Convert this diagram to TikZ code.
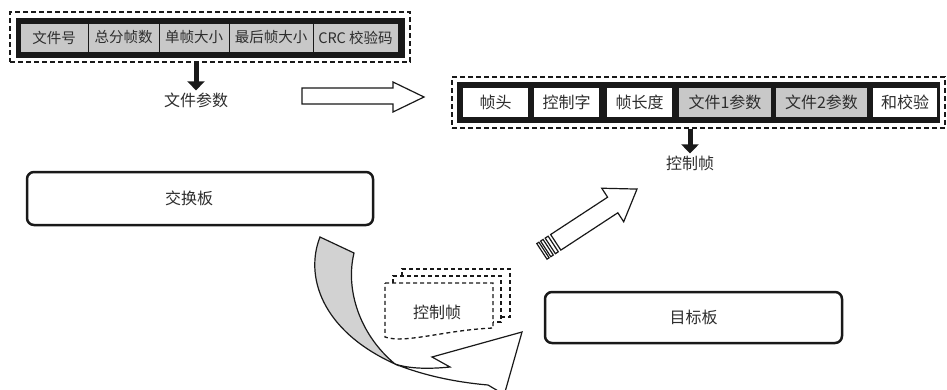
\documentclass[tikz,border=0pt]{standalone}
\usepackage{fontspec}
\setmainfont{Noto Sans CJK SC}
\usetikzlibrary{arrows.meta,calc}
\definecolor{cellgray}{RGB}{200,200,200}
\definecolor{ribbongray}{RGB}{210,210,210}
\definecolor{ink}{RGB}{25,25,25}
\definecolor{txt}{RGB}{45,45,45}
\tikzset{
  frame/.style={draw=ink, dash pattern=on 5pt off 3pt, line width=1.4pt, inner sep=0pt},
  bar/.style={fill=ink, draw=none, inner sep=0pt},
  cellL/.style={fill=cellgray, draw=ink, line width=0.8pt, inner sep=0pt, minimum height=29pt, font=\fontsize{14.5}{16}\selectfont, text=txt},
  cellW/.style={fill=white, draw=none, inner sep=0pt, minimum height=29pt, font=\fontsize{16}{18}\selectfont, text=txt},
  cellG/.style={cellW, fill=cellgray},
  lbl/.style={font=\fontsize{16}{18}\selectfont, text=txt, inner sep=2pt},
  board/.style={draw=ink, line width=2.5pt, rounded corners=7pt, fill=white, inner sep=0pt, font=\fontsize{16}{18}\selectfont, text=txt},
  bigdown/.style={line width=5pt, draw=ink, -{Triangle[width=17pt,length=9pt]}},
  hollow/.style={draw=ink, line width=1.2pt, fill=white, line join=miter},
  dframe/.style={draw=ink, dash pattern=on 4pt off 3pt, line width=1.3pt},
}
\begin{document}
\begin{tikzpicture}[x=1pt,y=-1pt]
\useasboundingbox (0,0) rectangle (947,389);
\clip (0,0) rectangle (947,389);

% ---- top-left frame: file parameters ----
\node[frame, minimum width=400pt, minimum height=50pt] (fL) at (210,37) {};
\node[bar, minimum width=389pt, minimum height=40pt] (barL) at (210.5,38) {};
\node[cellL, minimum width=68pt] (c1) at (54,37.5) {文件号};
\node[cellL, minimum width=71pt] (c2) at (123.5,37.5) {总分帧数};
\node[cellL, minimum width=70pt] (c3) at (194,37.5) {单帧大小};
\node[cellL, minimum width=84pt] (c4) at (271,37.5) {最后帧大小};
\node[cellL, minimum width=85pt] (c5) at (355.5,37.5) {CRC 校验码};

\node[lbl] (lbl1) at (196,100) {文件参数};
\draw[bigdown] (lbl1 |- fL.south) -- (lbl1.north);

% ---- hollow right arrow ----
\draw[hollow] (302,88) -- (393,88) -- (393,82) -- (424,97) -- (393,112) -- (393,104) -- (302,104) -- cycle;

% ---- top-right frame: control frame ----
\node[frame, minimum width=493pt, minimum height=51pt] (fR) at (698.5,102.5) {};
\node[bar, minimum width=483pt, minimum height=41pt] (barR) at (698.5,102.5) {};
\node[cellW, minimum width=65pt] (d1) at (495.5,102.5) {帧头};
\node[cellW, minimum width=65pt] (d2) at (566.5,102.5) {控制字};
\node[cellW, minimum width=65pt] (d3) at (639.5,102.5) {帧长度};
\node[cellG, minimum width=92pt] (d4) at (725,102.5) {文件1参数};
\node[cellG, minimum width=91pt] (d5) at (821.5,102.5) {文件2参数};
\node[cellW, minimum width=64pt] (d6) at (905,102.5) {和校验};

\node[lbl] (lbl2) at (690,163) {控制帧};
\draw[bigdown] (lbl2 |- fR.south) -- (lbl2.north);

% ---- boards ----
\node[board, minimum width=346pt, minimum height=53pt] (sw) at (200,198.5) {};
\node[lbl] (swt) at (189,198.5) {交换板};
\node[board, minimum width=297pt, minimum height=51pt] (tb) at (693.5,317.5) {目标板};

% ---- striped diagonal arrow ----
\begin{scope}[shift={(544,250)}, x={(0.838pt,0.549pt)}, y={(0.549pt,-0.838pt)}]
  \draw[hollow] (14,-9.3) -- (82,-9.3) -- (82,-20) -- (111,0) -- (82,20) -- (82,9.3) -- (14,9.3) -- cycle;
  \draw[hollow] (-2.5,-9.3) -- (0,-9.3) -- (0,9.3) -- (-2.5,9.3) -- cycle;
  \draw[hollow] (2,-9.3) -- (5,-9.3) -- (5,9.3) -- (2,9.3) -- cycle;
  \draw[hollow] (7.5,-9.3) -- (11,-9.3) -- (11,9.3) -- (7.5,9.3) -- cycle;
\end{scope}

% ---- stacked dashed control frames ----
\draw[dframe] (402,276) -- (402,269) -- (510,269) -- (510,317) -- (501,317);
\draw[dframe] (393,283) -- (393,276) -- (501,276) -- (501,322) -- (493,322);
\draw[dframe, fill=white] (385,283) -- (493,283) -- (493,328) .. controls (445,330) and (405,344) .. (385,337) -- cycle;
\node[lbl] (cft) at (437,312) {控制帧};

% ---- curved twisted arrow ----
\draw[hollow] (395,364) .. controls (410,369) and (430,369) .. (450,367) -- (432,357) -- (522,332) -- (505,392) -- (510,398) -- (488,385) .. controls (465,383) and (430,378) .. (395,364) -- cycle;
\draw[hollow, fill=ribbongray] (320,237) -- (354,253) .. controls (345,290) and (360,335) .. (395,364) .. controls (320,330) and (305,275) .. (320,237) -- cycle;
\end{tikzpicture}
\end{document}
